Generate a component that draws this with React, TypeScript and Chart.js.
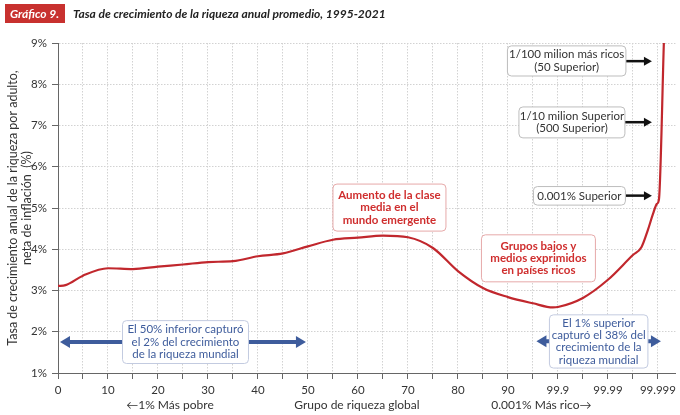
import { useEffect, useRef } from 'react';
import { Chart, registerables } from 'chart.js';

Chart.register(...registerables);

// ---- data ----
const xTickLabels = ['0', '10', '20', '30', '40', '50', '60', '70', '80', '90', '99.9', '99.99', '99.999'];
const xTickPositions = [0, 5, 10, 15, 20, 25, 30, 35, 40, 45, 50, 55, 60, 65, 70, 75, 80, 85, 90, 95, 100, 105, 110, 115, 120];
const yTickValues = [1, 2, 3, 4, 5, 6, 7, 8, 9];
const groupPosition = [0, 1.5, 5, 10, 15, 20, 25, 30, 35, 40, 45, 50, 55, 60, 65, 70, 75, 80, 85, 90, 95, 99, 100, 105, 110, 115, 116.7, 118, 119, 119.8, 120.2, 121.2];
const growthRate = [3.11, 3.13, 3.36, 3.54, 3.52, 3.58, 3.63, 3.69, 3.71, 3.83, 3.9, 4.07, 4.23, 4.28, 4.33, 4.29, 4.03, 3.47, 3.06, 2.84, 2.69, 2.59, 2.6, 2.82, 3.26, 3.86, 4.05, 4.47, 4.85, 5.1, 5.2, 9.05];
const bottomLabels = ['←1% Más pobre', 'Grupo de riqueza global', '0.001% Más rico→'];
const bottomLabelPositions = [22.4, 59.8, 96.7];

const FONT = 'Lato, "Noto Sans", sans-serif';

type Note = {
  lines: string[];
  x0: number; x1: number; y0: number; y1: number;
  kind: 'red' | 'blue' | 'gray';
};
const notes: Note[] = [
  { lines: ['Aumento de la clase', 'media en el', 'mundo emergente'], x0: 55.0, x1: 77.6, y0: 5.58, y1: 4.44, kind: 'red' },
  { lines: ['Grupos bajos y', 'medios exprimidos', 'en países ricos'], x0: 84.7, x1: 107.5, y0: 4.35, y1: 3.21, kind: 'red' },
  { lines: ['El 50% inferior capturó', 'el 2% del crecimiento', 'de la riqueza mundial'], x0: 12.9, x1: 38.1, y0: 2.27, y1: 1.23, kind: 'blue' },
  { lines: ['El 1% superior', 'capturó el 38% del', 'crecimiento de la', 'riqueza mundial'], x0: 98.3, x1: 118.0, y0: 2.41, y1: 1.12, kind: 'blue' },
  { lines: ['1/100 milion más ricos', '(50 Superior)'], x0: 89.9, x1: 113.6, y0: 8.93, y1: 8.2, kind: 'gray' },
  { lines: ['1/10 milion Superior', '(500 Superior)'], x0: 92.2, x1: 113.4, y0: 7.45, y1: 6.7, kind: 'gray' },
  { lines: ['0.001% Superior'], x0: 95.1, x1: 113.5, y0: 5.52, y1: 5.07, kind: 'gray' },
];

type Arrow = { xa: number; xb: number; y: number; both: boolean; kind: 'blue' | 'black' };
const arrows: Arrow[] = [
  { xa: 0.4, xb: 49.6, y: 1.75, both: true, kind: 'blue' },
  { xa: 95.7, xb: 120.6, y: 1.77, both: true, kind: 'blue' },
  { xa: 113.6, xb: 118.8, y: 8.56, both: false, kind: 'black' },
  { xa: 113.4, xb: 118.8, y: 7.08, both: false, kind: 'black' },
  { xa: 113.5, xb: 118.8, y: 5.3, both: false, kind: 'black' },
];

function roundRect(ctx: CanvasRenderingContext2D, x: number, y: number, w: number, h: number, r: number) {
  ctx.beginPath();
  ctx.moveTo(x + r, y);
  ctx.lineTo(x + w - r, y);
  ctx.arcTo(x + w, y, x + w, y + r, r);
  ctx.lineTo(x + w, y + h - r);
  ctx.arcTo(x + w, y + h, x + w - r, y + h, r);
  ctx.lineTo(x + r, y + h);
  ctx.arcTo(x, y + h, x, y + h - r, r);
  ctx.lineTo(x, y + r);
  ctx.arcTo(x, y, x + r, y, r);
  ctx.closePath();
}

function drawArrowHead(ctx: CanvasRenderingContext2D, tipX: number, y: number, dir: number, len: number, half: number) {
  ctx.beginPath();
  ctx.moveTo(tipX, y);
  ctx.lineTo(tipX - dir * len, y - half);
  ctx.lineTo(tipX - dir * len, y + half);
  ctx.closePath();
  ctx.fill();
}

const notesPlugin = {
  id: 'notesPlugin',
  afterDatasetsDraw(chart: any) {
    const { ctx, scales } = chart;
    const xs = scales.x;
    const ys = scales.y;
    ctx.save();
    arrows.forEach((a) => {
      const pa = xs.getPixelForValue(a.xa);
      const pb = xs.getPixelForValue(a.xb);
      const py = ys.getPixelForValue(a.y);
      const color = a.kind === 'blue' ? '#3e5c9c' : '#111111';
      const lw = a.kind === 'blue' ? 4 : 2.5;
      const len = a.kind === 'blue' ? 10 : 8;
      const half = a.kind === 'blue' ? 6 : 4.5;
      ctx.strokeStyle = color;
      ctx.fillStyle = color;
      ctx.lineWidth = lw;
      ctx.beginPath();
      ctx.moveTo(a.both ? pa + len - 1 : pa, py);
      ctx.lineTo(pb - len + 1, py);
      ctx.stroke();
      drawArrowHead(ctx, pb, py, 1, len, half);
      if (a.both) drawArrowHead(ctx, pa, py, -1, len, half);
    });
    notes.forEach((n) => {
      const l = xs.getPixelForValue(n.x0);
      const r = xs.getPixelForValue(n.x1);
      const t = ys.getPixelForValue(n.y0);
      const b = ys.getPixelForValue(n.y1);
      const border = n.kind === 'red' ? '#e6a9a9' : n.kind === 'blue' ? '#c3cbe0' : '#bdbdbd';
      const color = n.kind === 'red' ? '#cf2e2e' : n.kind === 'blue' ? '#3e5c9c' : '#333333';
      const weight = n.kind === 'red' ? 'bold ' : '';
      roundRect(ctx, l, t, r - l, b - t, 4);
      ctx.fillStyle = '#ffffff';
      ctx.fill();
      ctx.lineWidth = 1;
      ctx.strokeStyle = border;
      ctx.stroke();
      ctx.fillStyle = color;
      ctx.font = `${weight}11.5px ${FONT}`;
      ctx.textAlign = 'center';
      ctx.textBaseline = 'middle';
      const lh = 12.4;
      const cx = (l + r) / 2;
      const cy = (t + b) / 2;
      const start = cy - ((n.lines.length - 1) * lh) / 2;
      n.lines.forEach((line, i) => ctx.fillText(line, cx, start + i * lh));
    });
    ctx.restore();
  },
  afterDraw(chart: any) {
    const { ctx, scales, chartArea } = chart;
    ctx.save();
    ctx.fillStyle = '#333333';
    ctx.font = `12px ${FONT}`;
    ctx.textAlign = 'center';
    ctx.textBaseline = 'middle';
    bottomLabels.forEach((t, i) => {
      ctx.fillText(t, scales.x.getPixelForValue(bottomLabelPositions[i]), chartArea.bottom + 32);
    });
    ctx.restore();
  },
};

export default function App() {
  const canvasRef = useRef<HTMLCanvasElement | null>(null);

  useEffect(() => {
    document.body.style.margin = '0';
    const canvas = canvasRef.current;
    if (!canvas) return;
    const chart = new Chart(canvas, {
      type: 'line',
      data: {
        datasets: [
          {
            data: groupPosition.map((x, i) => ({ x, y: growthRate[i] })),
            borderColor: '#c1272d',
            borderWidth: 2.2,
            pointRadius: 0,
            cubicInterpolationMode: 'monotone',
            fill: false,
          },
        ],
      },
      options: {
        animation: false,
        responsive: false,
        maintainAspectRatio: false,
        layout: { padding: { top: 43, left: 0, right: 2, bottom: 0 } },
        plugins: { legend: { display: false }, tooltip: { enabled: false }, title: { display: false } },
        scales: {
          x: {
            type: 'linear',
            min: 0,
            max: 123.5,
            afterBuildTicks: (scale: any) => {
              scale.ticks = xTickPositions.map((v) => ({ value: v }));
            },
            afterFit: (scale: any) => {
              scale.height = 42;
            },
            ticks: {
              autoSkip: false,
              maxRotation: 0,
              padding: 4,
              color: '#333333',
              font: { family: FONT, size: 11.5 },
              callback: (v: any) => (Number(v) % 10 === 0 ? xTickLabels[Number(v) / 10] : ''),
            },
            grid: {
              color: '#d2d2d2',
              lineWidth: 1,
              tickLength: 6,
              tickColor: '#666666',
              tickBorderDash: [],
            },
            border: { display: true, color: '#666666', width: 1, dash: [1.5, 1.5] },
          },
          y: {
            type: 'linear',
            min: 1,
            max: 9,
            afterBuildTicks: (scale: any) => {
              scale.ticks = yTickValues.map((v) => ({ value: v }));
            },
            afterFit: (scale: any) => {
              scale.width = 58;
            },
            ticks: {
              padding: 5,
              color: '#333333',
              font: { family: FONT, size: 11.5 },
              callback: (v: any) => `${v}%`,
            },
            grid: {
              color: '#d2d2d2',
              lineWidth: 1,
              tickLength: 6,
              tickColor: '#666666',
              tickBorderDash: [],
            },
            border: { display: true, color: '#666666', width: 1, dash: [1.5, 1.5] },
            title: {
              display: true,
              text: ['Tasa de crecimiento anual de la riqueza por adulto,', 'neta de inflación  (%)'],
              color: '#333333',
              font: { family: FONT, size: 12.5, lineHeight: 1.12 },
              padding: { top: 6, bottom: 0 },
            },
          },
        },
      },
      plugins: [notesPlugin],
    } as any);
    return () => chart.destroy();
  }, []);

  return (
    <div style={{ position: 'relative', width: 680, height: 415, background: '#ffffff' }}>
      <canvas ref={canvasRef} width={680} height={415} style={{ position: 'absolute', left: 0, top: 0, width: 680, height: 415 }} />
      <div
        style={{
          position: 'absolute',
          left: 5,
          top: 4,
          height: 19,
          display: 'flex',
          alignItems: 'center',
          fontFamily: FONT,
          fontWeight: 'bold',
          fontStyle: 'italic',
          fontSize: 12,
          whiteSpace: 'nowrap',
        }}
      >
        <span style={{ background: '#c8312f', color: '#ffffff', padding: '0 6px 0 5px', height: 19, lineHeight: '19px', display: 'inline-block' }}>
          Gráfico 9.
        </span>
        <span style={{ color: '#222222', marginLeft: 8 }}>Tasa de crecimiento de la riqueza anual promedio, 1995-2021</span>
      </div>
    </div>
  );
}
